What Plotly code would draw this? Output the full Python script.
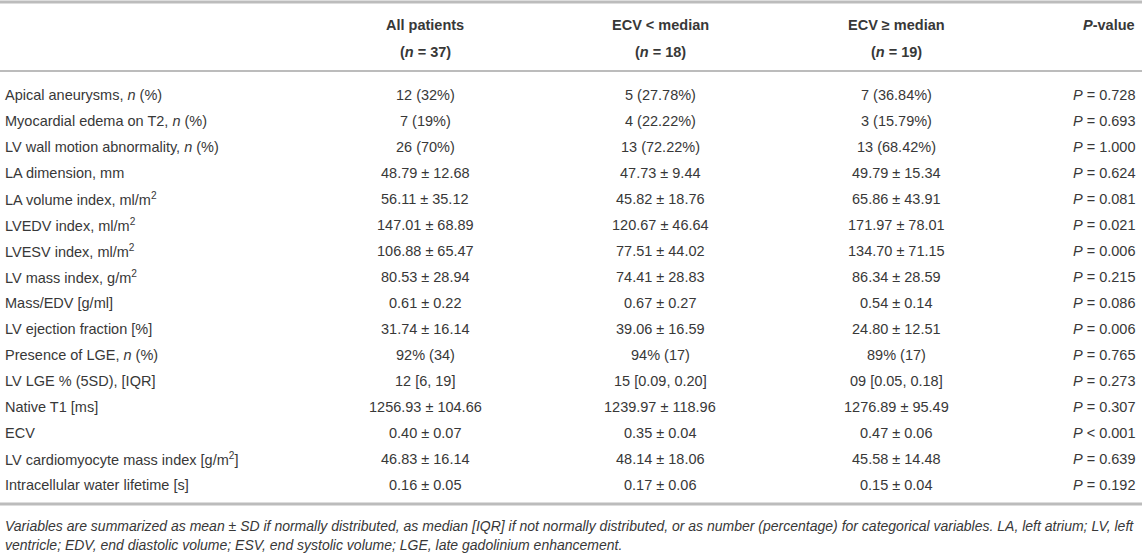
import plotly.graph_objects as go

# ---------------- data ----------------
row_labels = [
    "Apical aneurysms, <i>n</i> (%)",
    "Myocardial edema on T2, <i>n</i> (%)",
    "LV wall motion abnormality, <i>n</i> (%)",
    "LA dimension, mm",
    "LA volume index, ml/m<sup>2</sup>",
    "LVEDV index, ml/m<sup>2</sup>",
    "LVESV index, ml/m<sup>2</sup>",
    "LV mass index, g/m<sup>2</sup>",
    "Mass/EDV [g/ml]",
    "LV ejection fraction [%]",
    "Presence of LGE, <i>n</i> (%)",
    "LV LGE % (5SD), [IQR]",
    "Native T1 [ms]",
    "ECV",
    "LV cardiomyocyte mass index [g/m<sup>2</sup>]",
    "Intracellular water lifetime [s]",
]
all_patients = [
    "12 (32%)", "7 (19%)", "26 (70%)", "48.79 ± 12.68", "56.11 ± 35.12",
    "147.01 ± 68.89", "106.88 ± 65.47", "80.53 ± 28.94", "0.61 ± 0.22",
    "31.74 ± 16.14", "92% (34)", "12 [6, 19]", "1256.93 ± 104.66",
    "0.40 ± 0.07", "46.83 ± 16.14", "0.16 ± 0.05",
]
ecv_low = [
    "5 (27.78%)", "4 (22.22%)", "13 (72.22%)", "47.73 ± 9.44", "45.82 ± 18.76",
    "120.67 ± 46.64", "77.51 ± 44.02", "74.41 ± 28.83", "0.67 ± 0.27",
    "39.06 ± 16.59", "94% (17)", "15 [0.09, 0.20]", "1239.97 ± 118.96",
    "0.35 ± 0.04", "48.14 ± 18.06", "0.17 ± 0.06",
]
ecv_high = [
    "7 (36.84%)", "3 (15.79%)", "13 (68.42%)", "49.79 ± 15.34", "65.86 ± 43.91",
    "171.97 ± 78.01", "134.70 ± 71.15", "86.34 ± 28.59", "0.54 ± 0.14",
    "24.80 ± 12.51", "89% (17)", "09 [0.05, 0.18]", "1276.89 ± 95.49",
    "0.47 ± 0.06", "45.58 ± 14.48", "0.15 ± 0.04",
]
p_values = [
    "= 0.728", "= 0.693", "= 1.000", "= 0.624", "= 0.081", "= 0.021",
    "= 0.006", "= 0.215", "= 0.086", "= 0.006", "= 0.765", "= 0.273",
    "= 0.307", "< 0.001", "= 0.639", "= 0.192",
]
headers = [
    "<b>All patients</b>", "<b>ECV &lt; median</b>", "<b>ECV ≥ median</b>",
    "<b><i>P</i>-value</b>",
]
header_n = ["<b>(<i>n</i> = 37)</b>", "<b>(<i>n</i> = 18)</b>", "<b>(<i>n</i> = 19)</b>", ""]
footnote = [
    "Variables are summarized as mean ± SD if normally distributed, as median [IQR] if not normally distributed, "
    "or as number (percentage) for categorical variables. LA, left atrium; LV, left",
    "ventricle; EDV, end diastolic volume; ESV, end systolic volume; LGE, late gadolinium enhancement.",
]

# ---------------- layout constants ----------------
W, H = 1142, 557
FONT = "Liberation Sans, Arial, Helvetica, sans-serif"
TXT = "#383838"
RULE = "#bcbcbc"
BODY_SIZE = 14.5
FOOT_SIZE = 14
col_x = [425, 660, 896, 1137]
label_x = 3
head_y = [25, 52]
first_row_y = 95
row_step = 26
rule_top, rule_head = 2, 71
rule_bottom = first_row_y + (len(row_labels) - 1) * row_step + 19
foot_y = [rule_bottom + 22, rule_bottom + 41]

fig = go.Figure()
fig.add_trace(go.Scatter(x=[0, W], y=[0, H], mode="markers",
                         marker=dict(opacity=0), hoverinfo="skip", showlegend=False))

ann = []
def add(x, y, text, anchor="center", size=BODY_SIZE, color=TXT):
    ann.append(dict(x=x, y=y, xref="x", yref="y", text=text, showarrow=False,
                    xanchor=anchor, yanchor="middle",
                    font=dict(family=FONT, size=size, color=color)))

for j, (h, n) in enumerate(zip(headers, header_n)):
    anchor = "right" if j == 3 else "center"
    add(col_x[j], head_y[0], h, anchor)
    if n:
        add(col_x[j], head_y[1], n, anchor)

columns = [all_patients, ecv_low, ecv_high]
for i, lab in enumerate(row_labels):
    y = first_row_y + i * row_step
    add(label_x, y, lab, "left")
    for j, col in enumerate(columns):
        add(col_x[j], y, col[i], "center")
    add(col_x[3], y, "<i>P</i> " + p_values[i], "right")

for k, line in enumerate(footnote):
    add(label_x, foot_y[k], "<i>" + line + "</i>", "left", size=FOOT_SIZE)

shapes = []
for yy, wdt in [(rule_top, 3), (rule_head, 2), (rule_bottom, 3)]:
    shapes.append(dict(type="line", xref="x", yref="y", x0=0, x1=W, y0=yy, y1=yy,
                       line=dict(color=RULE, width=wdt)))

fig.update_layout(
    width=W, height=H, margin=dict(l=0, r=0, t=0, b=0),
    paper_bgcolor="white", plot_bgcolor="white",
    xaxis=dict(range=[0, W], visible=False, fixedrange=True),
    yaxis=dict(range=[H, 0], visible=False, fixedrange=True),
    annotations=ann, shapes=shapes, showlegend=False,
)
fig.write_html("out.html", config={"displayModeBar": False},
               post_script="document.body.style.margin='0px';document.body.style.overflow='hidden';")
